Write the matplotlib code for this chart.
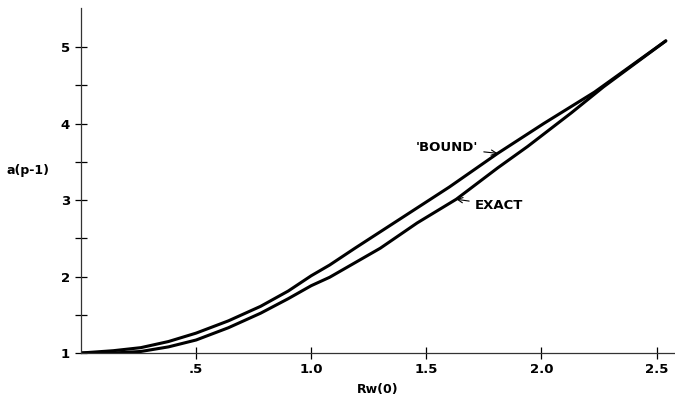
import matplotlib.pyplot as plt

# values
bound_x = [0, 0.14, 0.26, 0.38, 0.5, 0.64, 0.78, 0.9, 1.0, 1.08, 1.19, 1.39, 1.6, 1.81, 2.01, 2.23, 2.54]
bound_y = [1, 1.03, 1.07, 1.15, 1.26, 1.42, 1.61, 1.81, 2.01, 2.15, 2.37, 2.76, 3.17, 3.61, 4.0, 4.41, 5.08]
exact_x = [0, 0.14, 0.26, 0.38, 0.5, 0.64, 0.78, 0.9, 1.0, 1.08, 1.3, 1.46, 1.63, 1.81, 1.94, 2.13, 2.27, 2.54]
exact_y = [1, 1.0, 1.02, 1.08, 1.17, 1.33, 1.52, 1.71, 1.88, 1.99, 2.37, 2.70, 3.01, 3.42, 3.7, 4.14, 4.48, 5.08]

x_ticks = [0.5, 1.0, 1.5, 2.0, 2.5]
x_labels = ['.5', '1.0', '1.5', '2.0', '2.5']
y_ticks = [1, 2, 3, 4, 5]
y_minor = [1.5, 2.5, 3.5, 4.5]

fig = plt.figure(figsize=(6.75, 4), dpi=100)
ax = fig.add_axes([0.12, 0.1175, 0.88, 0.8625])

ax.plot(bound_x, bound_y, color='black', linewidth=2.2, solid_capstyle='round', solid_joinstyle='round')
ax.plot(exact_x, exact_y, color='black', linewidth=2.2, solid_capstyle='round', solid_joinstyle='round')

ax.set_xlim(0, 2.58)
ax.set_ylim(1, 5.51)

for s in ['top', 'right']:
    ax.spines[s].set_visible(False)
for s in ['left', 'bottom']:
    ax.spines[s].set_linewidth(0.9)
    ax.spines[s].set_color('#333333')

ax.set_xticks(x_ticks)
ax.set_xticklabels(x_labels)
ax.set_yticks(y_ticks)
ax.set_yticks(y_minor, minor=True)
ax.tick_params(axis='both', which='both', direction='inout', length=8, width=0.9,
               labelsize=9.5)
ax.tick_params(axis='x', which='major', pad=3)
ax.tick_params(axis='y', which='major', pad=4)
for lab in ax.get_xticklabels() + ax.get_yticklabels():
    lab.set_fontweight('bold')

ax.set_xlabel('Rw(0)', fontsize=9, fontweight='bold', labelpad=5)
ax.set_ylabel('a(p-1)', fontsize=9, fontweight='bold', rotation=0, va='center', ha='center')
ax.yaxis.set_label_coords(-0.089, 0.53)

ax.annotate("'BOUND'", xy=(1.81, 3.61), xytext=(1.59, 3.68), ha='center', va='center',
            fontsize=9.5, fontweight='bold',
            arrowprops=dict(arrowstyle='->', color='black', lw=0.8, shrinkA=2, shrinkB=0))
ax.annotate("EXACT", xy=(1.63, 3.01), xytext=(1.71, 2.93), ha='left', va='center',
            fontsize=9.5, fontweight='bold',
            arrowprops=dict(arrowstyle='->', color='black', lw=0.8, shrinkA=2, shrinkB=0))

plt.savefig('out.png', dpi=100)
